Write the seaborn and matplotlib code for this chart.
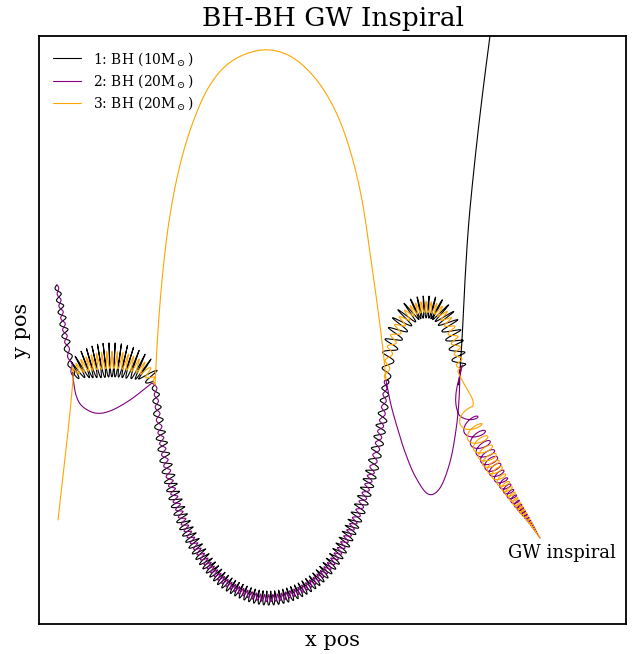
import numpy as np
import matplotlib
matplotlib.use("Agg")
import matplotlib.pyplot as plt
import seaborn as sns

# ---- data (pixel-like position units) ----
# Segment A: black + purple pair, start
A_x = [57, 62, 67, 73]
A_y = [285, 315, 345, 376]
A_cyc = [0, 2.5, 5, 7]
A_amp = [1.2, 1.8, 1.8, 1.2]

# Segment B: black + orange pair (left arc)
B_x = [73, 85, 100, 115, 130, 145, 153]
B_y = [372, 365, 361, 360, 363, 370, 381]
B_cyc = [0, 2.5, 5.7, 8.9, 12, 15, 16.5]
B_amp = [4, 7, 8.5, 8.5, 8, 6, 3]

# Segment C: black + purple pair (big lower arc)
C_x = [155, 160, 170, 185, 205, 230, 265, 300, 330, 355, 372, 382, 386]
C_y = [385, 430, 480, 525, 560, 585, 598, 590, 565, 520, 470, 420, 380]
C_cyc = [0, 3.5, 8.1, 14, 20.2, 27.2, 35.4, 43.4, 51.2, 59.1, 65, 69.3, 72.4]
C_amp = [1.5, 2.5, 3, 3.3, 3.5, 3.5, 3.5, 3.5, 3.5, 3.3, 3, 2.5, 1.5]

# Segment D: black + orange pair (right arc)
D_x = [386, 390, 400, 412, 425, 438, 448, 456, 460]
D_y = [380, 350, 325, 311, 307, 310, 322, 345, 368]
D_cyc = [0, 2, 4.5, 7, 10, 13, 15.5, 18, 20]
D_amp = [2, 3.5, 5, 5.5, 5.5, 5.5, 5, 4, 3]

# Segment E: purple + orange inspiral
E_x = [460, 466, 474, 480, 485, 489, 493, 505, 518, 530, 540]
E_y = [368, 411, 430, 442, 451, 459, 466, 485, 505, 522, 538]
E_cyc = [-0.075, 0.36, 1.36, 2.36, 3.36, 4.36, 5.36, 8.3, 12.3, 18, 26]
E_amp = [6, 9.5, 10, 9.5, 9, 8.5, 8, 5.5, 3.5, 1.5, 0]

# single-body arcs
OA_x = [58, 62, 66, 70, 73]                 # orange start
OA_y = [520, 485, 450, 412, 380]
PB_x = [73, 76, 82, 95, 110, 130, 152]      # purple loop (left)
PB_y = [378, 395, 406, 413, 411, 400, 383]
OC_x = [155, 158, 163, 170, 180, 193, 210, 232, 262, 290, 315, 335, 350, 362, 371, 378, 383, 386]
OC_y = [385, 330, 270, 215, 165, 122, 85, 61, 50, 56, 78, 110, 150, 200, 260, 310, 350, 380]
PD_x = [386, 391, 398, 405, 415, 428, 440, 450, 456, 459, 460]  # purple loop (right)
PD_y = [380, 405, 430, 452, 476, 494, 488, 462, 430, 400, 370]
BE_x = [459, 462, 465, 469, 476, 483, 490, 494]  # black escape
BE_y = [385, 340, 280, 220, 150, 90, 36, 5]

labels = ["1: BH (10M$_\\odot$)", "2: BH (20M$_\\odot$)", "3: BH (20M$_\\odot$)"]
colors = ["black", "purple", "orange"]


def catmull(px, py, vals, n=24):
    px = np.asarray(px, float); py = np.asarray(py, float)
    P = np.column_stack([px, py])
    P = np.vstack([2 * P[0] - P[1], P, 2 * P[-1] - P[-2]])
    vals = [np.asarray(v, float) for v in vals]
    xs, ys, vs = [], [], [[] for _ in vals]
    m = len(px) - 1
    for i in range(m):
        p0, p1, p2, p3 = P[i], P[i + 1], P[i + 2], P[i + 3]
        k = n
        if vals:
            k = max(n, int(28 * abs(vals[0][i + 1] - vals[0][i])) + 2)
        t = np.linspace(0, 1, k, endpoint=(i == m - 1))[:, None]
        pt = 0.5 * ((2 * p1) + (-p0 + p2) * t + (2 * p0 - 5 * p1 + 4 * p2 - p3) * t ** 2
                    + (-p0 + 3 * p1 - 3 * p2 + p3) * t ** 3)
        xs.append(pt[:, 0]); ys.append(pt[:, 1])
        for j, v in enumerate(vals):
            vs[j].append(v[i] + t[:, 0] * (v[i + 1] - v[i]))
    out = [np.concatenate(xs), np.concatenate(ys)]
    out += [np.concatenate(v) for v in vs]
    return out


def pair(gx, gy, cyc, amp, fa, fb, par=0.06):
    x, y, c, a = catmull(gx, gy, [cyc, amp])
    dx = np.gradient(x); dy = np.gradient(y)
    L = np.hypot(dx, dy) + 1e-9
    tx, ty = dx / L, dy / L
    nx, ny = ty, -tx
    ph = 2 * np.pi * c
    ox = a * (nx * np.sin(ph) + par * tx * np.cos(ph))
    oy = a * (ny * np.sin(ph) + par * ty * np.cos(ph))
    return (x + fa * ox, y + fa * oy), (x + fb * ox, y + fb * oy)


def smooth(gx, gy):
    x, y = catmull(gx, gy, [], n=40)
    return x, y


# build trajectories
bA, pA = pair(A_x, A_y, A_cyc, A_amp, -2, 1)
bB, oB = pair(B_x, B_y, B_cyc, B_amp, -2, 1)
bC, pC = pair(C_x, C_y, C_cyc, C_amp, -2, 1)
bD, oD = pair(D_x, D_y, D_cyc, D_amp, -2, 1)
pE, oE = pair(E_x, E_y, E_cyc, E_amp, -1, 1, par=0.5)

oA = smooth(OA_x, OA_y)
pB = smooth(PB_x, PB_y)
oC = smooth(OC_x, OC_y)
pD = smooth(PD_x, PD_y)
bE = smooth(BE_x, BE_y)

black = (np.concatenate([bA[0], bB[0], bC[0], bD[0], bE[0]]),
         np.concatenate([bA[1], bB[1], bC[1], bD[1], bE[1]]))
purple = (np.concatenate([pA[0], pB[0], pC[0], pD[0], pE[0]]),
          np.concatenate([pA[1], pB[1], pC[1], pD[1], pE[1]]))
orange = (np.concatenate([oA[0], oB[0], oC[0], oD[0], oE[0]]),
          np.concatenate([oA[1], oB[1], oC[1], oD[1], oE[1]]))

sns.set_theme(style="white")
plt.rcParams["font.family"] = ["DejaVu Serif"]
plt.rcParams["mathtext.fontset"] = "dejavuserif"
plt.rcParams["text.color"] = "black"
plt.rcParams["axes.labelcolor"] = "black"

fig = plt.figure(figsize=(6.32, 6.54), dpi=100)
ax = fig.add_axes([39 / 632, 30 / 654, 587 / 632, 588 / 654])

for (xx, yy), col, lab in zip([black, purple, orange], colors, labels):
    sns.lineplot(x=xx, y=yy, sort=False, estimator=None, color=col, lw=0.8,
                 ax=ax, label=lab)

ax.set_xlim(39, 626)
ax.set_ylim(624, 36)
ax.set_xticks([]); ax.set_yticks([])
for s in ax.spines.values():
    s.set_color("black"); s.set_linewidth(1.3); s.set_visible(True)

ax.set_title("BH-BH GW Inspiral", fontsize=19, pad=7, color="black")
ax.set_xlabel("x pos", fontsize=15, labelpad=5)
ax.set_ylabel("y pos", fontsize=15, labelpad=6)
ax.text(562, 553, "GW inspiral", fontsize=13, ha="center", va="center")

leg = ax.legend(loc="upper left", frameon=False, fontsize=10, handlelength=2.0,
                handletextpad=0.9, labelspacing=0.33, borderaxespad=0.6)

fig.savefig("out.png", dpi=100)
